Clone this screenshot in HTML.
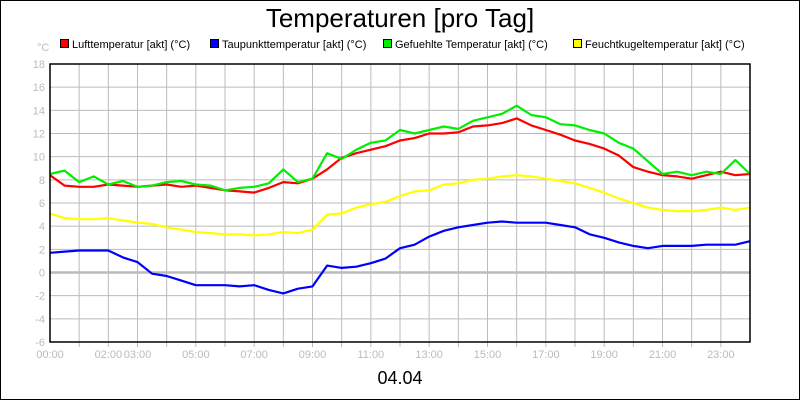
<!DOCTYPE html>
<html><head><meta charset="utf-8"><style>
body{margin:0;background:#fff}
svg{display:block;font-family:"Liberation Sans",sans-serif}
</style></head><body>
<svg id="chart" width="800" height="400" viewBox="0 0 800 400">
<rect x="0.5" y="0.5" width="799" height="399" fill="#fff" stroke="#000"/>
<text x="400" y="27" text-anchor="middle" font-size="26">Temperaturen [pro Tag]</text>
<text x="37" y="51" font-size="11" fill="#bbb">°C</text>
<g id="legend" font-size="11"></g>
<g id="grid"></g>
<g id="series"></g>
<rect x="50" y="64" width="700" height="278" fill="none" stroke="#000" stroke-width="1.5"/>
<text x="400" y="384" text-anchor="middle" font-size="18">04.04</text>
</svg>
<script>
const yTicks=[18,16,14,12,10,8,6,4,2,0,-2,-4,-6];
const xTickLabels=["00:00","02:00","03:00","05:00","07:00","09:00","11:00","13:00","15:00","17:00","19:00","21:00","23:00"];
const xTickHours=[0,2,3,5,7,9,11,13,15,17,19,21,23];
const hours=[0,0.5,1,1.5,2,2.5,3,3.5,4,4.5,5,5.5,6,6.5,7,7.5,8,8.5,9,9.5,10,10.5,11,11.5,12,12.5,13,13.5,14,14.5,15,15.5,16,16.5,17,17.5,18,18.5,19,19.5,20,20.5,21,21.5,22,22.5,23,23.5,24];
const luft=[8.4,7.5,7.4,7.4,7.6,7.5,7.4,7.5,7.6,7.4,7.5,7.3,7.1,7.0,6.9,7.3,7.8,7.7,8.1,8.9,9.9,10.3,10.6,10.9,11.4,11.6,12.0,12.0,12.1,12.6,12.7,12.9,13.3,12.7,12.3,11.9,11.4,11.1,10.7,10.1,9.1,8.7,8.4,8.3,8.1,8.4,8.7,8.4,8.5];
const taupunkt=[1.7,1.8,1.9,1.9,1.9,1.3,0.9,-0.1,-0.3,-0.7,-1.1,-1.1,-1.1,-1.2,-1.1,-1.5,-1.8,-1.4,-1.2,0.6,0.4,0.5,0.8,1.2,2.1,2.4,3.1,3.6,3.9,4.1,4.3,4.4,4.3,4.3,4.3,4.1,3.9,3.3,3.0,2.6,2.3,2.1,2.3,2.3,2.3,2.4,2.4,2.4,2.7];
const gefuehlt=[8.5,8.8,7.8,8.3,7.6,7.9,7.4,7.5,7.8,7.9,7.6,7.5,7.1,7.3,7.4,7.7,8.9,7.8,8.1,10.3,9.8,10.6,11.2,11.4,12.3,12.0,12.3,12.6,12.4,13.1,13.4,13.7,14.4,13.6,13.4,12.8,12.7,12.3,12.0,11.2,10.7,9.6,8.5,8.7,8.4,8.7,8.5,9.7,8.5];
const feucht=[5.1,4.7,4.6,4.6,4.7,4.5,4.3,4.2,3.9,3.7,3.5,3.4,3.3,3.3,3.2,3.3,3.5,3.4,3.7,5.0,5.1,5.6,5.9,6.1,6.6,7.0,7.1,7.6,7.7,8.0,8.1,8.3,8.4,8.3,8.1,7.9,7.7,7.3,6.9,6.4,6.0,5.6,5.4,5.3,5.3,5.4,5.6,5.4,5.6];
const seriesNames=["Lufttemperatur [akt] (°C)","Taupunkttemperatur [akt] (°C)","Gefuehlte Temperatur [akt] (°C)","Feuchtkugeltemperatur [akt] (°C)"];
const seriesColors=["#ff0000","#0000ff","#00ee00","#ffff00"];
const seriesData=[luft,taupunkt,gefuehlt,feucht];

const NS="http://www.w3.org/2000/svg";
const X0=50,X1=750,Y0=342,Y1=64,VMIN=-6,VMAX=18;
const xs=h=>X0+(h/24)*(X1-X0);
const ys=v=>Y0-(v-VMIN)/(VMAX-VMIN)*(Y0-Y1);
function mk(t,a,p){const e=document.createElementNS(NS,t);for(const k in a)e.setAttribute(k,a[k]);p.appendChild(e);return e;}
const grid=document.getElementById('grid');
for(let h=1;h<24;h++){
  const l=mk('line',{x1:xs(h),x2:xs(h),y1:Y1,y2:Y0+5,stroke:'#bbb','stroke-width':1},grid);
  
  
}
yTicks.forEach(v=>{
  const l=mk('line',{x1:X0,x2:X1,y1:ys(v),y2:ys(v),stroke:'#bbb','stroke-width':v===0?2.5:1},grid);
  
  
  const t=mk('text',{x:45,y:ys(v)+4,'text-anchor':'end','font-size':11,fill:'#bbb'},grid);
  t.textContent=v;
  
  
});
xTickLabels.forEach((s,i)=>{
  const t=mk('text',{x:xs(xTickHours[i]),y:358,'text-anchor':'middle','font-size':11,fill:'#bbb'},grid);
  t.textContent=s;
  
  
});
const sg=document.getElementById('series');
seriesData.forEach((d,i)=>{
  const pts=d.map((v,j)=>xs(hours[j]).toFixed(1)+','+ys(v).toFixed(1)).join(' ');
  const p=mk('polyline',{points:pts,fill:'none',stroke:seriesColors[i],'stroke-width':2.2,'stroke-linejoin':'round'},sg);
  
  
});
const lg=document.getElementById('legend');
const lx=[60,210,383,573];
seriesNames.forEach((n,i)=>{
  const r=mk('rect',{x:lx[i]+0.5,y:39.5,width:8,height:8,fill:seriesColors[i],stroke:'#000'},lg);
  
  
  const t=mk('text',{x:lx[i]+12,y:48},lg);
  t.textContent=n;
  
  
});
</script>
</body></html>
